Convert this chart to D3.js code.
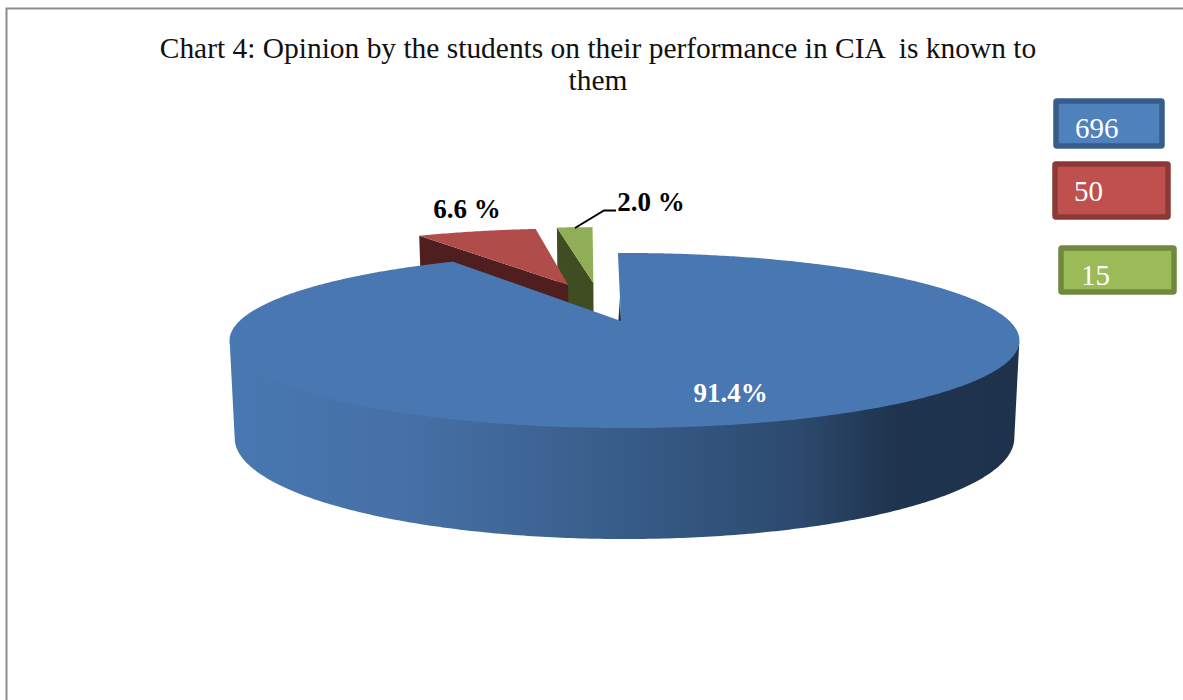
<!DOCTYPE html>
<html>
<head>
<meta charset="utf-8">
<script src="https://cdn.jsdelivr.net/npm/d3@7/dist/d3.min.js"></script>
<style>
html,body{margin:0;padding:0;background:#fff;}
svg{display:block;}
text{font-family:"Liberation Serif","Times New Roman",serif;}
</style>
</head>
<body>
<div id="chart"></div>
<script>
// ---- data ----
const titleLines = ["Chart 4: Opinion by the students on their performance in CIA  is known to", "them"];
const seriesValues = [696, 50, 15];
const percentLabels = ["91.4%", "6.6 %", "2.0 %"];
const topColors = ["#4877b1", "#b04c4a", "#8fae55"];
const cutColors = ["#1c2f47", "#4f1f1f", "#404d22"];
const legendFill = ["#4f81bd", "#c0504d", "#9bbb59"];
const legendStroke = ["#385d8a", "#8c3836", "#71893f"];

// ---- layout ----
const W = 1183, H = 700;
const svg = d3.select("#chart").append("svg").attr("width", W).attr("height", H);
const defs = svg.append("defs");

// frame
svg.append("path").attr("d", `M6.5,${H}V8.5H${W}`).attr("fill", "none").attr("stroke", "#8c8c8c").attr("stroke-width", 2);

// title
svg.append("g").selectAll("text").data(titleLines).join("text")
  .attr("x", 598)
  .attr("y", (d, i) => 58 + i * 32)
  .attr("text-anchor", "middle")
  .attr("font-size", 29.45)
  .attr("fill", "#111")
  .attr("xml:space", "preserve")
  .style("white-space", "pre")
  .text(d => d);

// perspective projection of the pie's disc: top plane and bottom plane
const planes = [
  { y0: 321, a: 83.2, R: 385 },
  { y0: 415.5, a: 96, R: 380 }
];
const cx = 624.5, persp = -0.223;
function project(u, v, z) {
  const p = planes[z], d = 1 + persp * v;
  return [cx + p.R * u / d, p.y0 + p.a * v / d];
}
// how far each slice's hub is pulled from the disc centre (disc units)
const explode = [[-0.009, 0], [-0.162, -0.48], [-0.09, -0.508]];

const rotation = -1.2 * Math.PI / 180;
const pie = d3.pie().sort(null).startAngle(rotation).endAngle(2 * Math.PI + rotation);
const arcs = pie(seriesValues);

const rim = (i, a, z) => {
  const off = i === 0 ? [0, 0] : explode[i];
  return project(off[0] + Math.sin(a), off[1] - Math.cos(a), z);
};
const hub = (i, z) => project(explode[i][0], explode[i][1], z);
const line = d3.line();
const angleSteps = (a0, a1) => {
  const n = Math.max(2, Math.ceil((a1 - a0) / 0.01));
  return d3.range(n + 1).map(k => a0 + (a1 - a0) * k / n);
};

// wall gradient
const wallStops = [[0, "#4877b1"], [0.22, "#4670a6"], [0.5, "#375c88"], [0.72, "#2c4a6e"], [0.84, "#1f344e"], [1, "#1e324c"]];
const grad = defs.append("linearGradient").attr("id", "wall").attr("gradientUnits", "userSpaceOnUse")
  .attr("x1", 235).attr("x2", 1016).attr("y1", 0).attr("y2", 0);
grad.selectAll("stop").data(wallStops).join("stop")
  .attr("offset", d => d[0]).attr("stop-color", d => d[1]);

const pieG = svg.append("g");
// back slices first, then the large slice in front
[2, 1, 0].forEach(i => {
  const s = arcs[i];
  if (i === 0) {
    // wall runs between the silhouette tangents of the projected disc;
    // its upper edge tucks under the top face so no seam shows
    const a0 = Math.acos(persp), a1 = 2 * Math.PI - a0;
    const steps = angleSteps(a0, a1);
    const upper = steps.map(a => rim(0, a, 0)).map(p => [p[0], p[1] - 1.5]);
    pieG.append("path")
      .attr("d", line(upper.concat(steps.slice().reverse().map(a => rim(0, a, 1)))) + "Z")
      .attr("fill", "url(#wall)");
    // sliver of the cut face next to the hub
    const e = s.startAngle, part = 0.3;
    const pt = project(explode[0][0] * (1 - part) + Math.sin(e) * part, -Math.cos(e) * part, 0);
    pieG.append("path")
      .attr("d", line([pt, hub(0, 0), project(explode[0][0] - 0.007, 0, 0)]) + "Z")
      .attr("fill", cutColors[0]);
  } else {
    // cut face on the left edge of the slice
    pieG.append("path")
      .attr("d", line([rim(i, s.startAngle, 0), hub(i, 0), hub(i, 1), rim(i, s.startAngle, 1)]) + "Z")
      .attr("fill", cutColors[i]);
  }
  const arcPts = angleSteps(s.startAngle, s.endAngle).map(a => rim(i, a, 0));
  pieG.append("path")
    .attr("d", line([hub(i, 0)].concat(arcPts)) + "Z")
    .attr("fill", topColors[i]);
});

// percentage labels
const labelPos = [[730.5, 402], [467, 218], [651, 211]];
svg.append("g").selectAll("text").data(percentLabels).join("text")
  .attr("x", (d, i) => labelPos[i][0])
  .attr("y", (d, i) => labelPos[i][1])
  .attr("text-anchor", "middle")
  .attr("font-size", 27)
  .attr("font-weight", "bold")
  .attr("fill", (d, i) => i === 0 ? "#fff" : "#000")
  .text(d => d);

// leader line
svg.append("path").attr("d", line([[575, 228], [604, 210.5], [616, 210.5]]))
  .attr("fill", "none").attr("stroke", "#000").attr("stroke-width", 2);

// legend boxes
const boxes = [
  { x: 1056, y: 101, w: 106, h: 45, tx: 1075, ty: 138 },
  { x: 1055, y: 164, w: 113, h: 53, tx: 1074, ty: 201 },
  { x: 1061, y: 248, w: 113, h: 44, tx: 1081, ty: 285 }
];
const legend = svg.append("g").selectAll("g").data(seriesValues).join("g");
legend.append("rect")
  .attr("x", (d, i) => boxes[i].x).attr("y", (d, i) => boxes[i].y)
  .attr("width", (d, i) => boxes[i].w).attr("height", (d, i) => boxes[i].h)
  .attr("rx", 1)
  .attr("fill", (d, i) => legendFill[i])
  .attr("stroke", (d, i) => legendStroke[i])
  .attr("stroke-width", 5.5);
legend.append("text")
  .attr("x", (d, i) => boxes[i].tx).attr("y", (d, i) => boxes[i].ty)
  .attr("font-size", 29).attr("fill", "#fff")
  .text(d => d);
</script>
</body>
</html>
